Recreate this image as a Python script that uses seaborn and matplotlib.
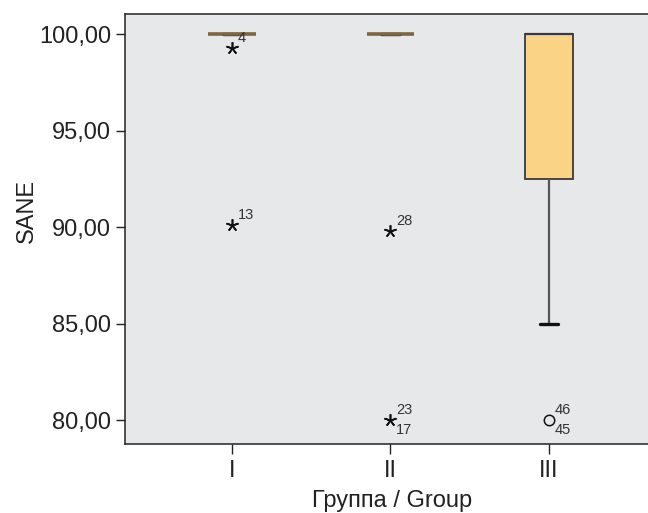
import numpy as np
import pandas as pd
import seaborn as sns
import matplotlib
matplotlib.use("Agg")
import matplotlib.pyplot as plt
from matplotlib.ticker import FuncFormatter

# ---- data ----
groups = ["I", "II", "III"]
group_I_cases = [1, 2, 3, 4, 5, 6, 7, 8, 9, 10, 11, 12, 13]
group_I_values = [100, 100, 100, 99.3, 100, 100, 100, 100, 100, 100, 100, 100, 90.1]
group_II_cases = [14, 15, 16, 17, 18, 19, 20, 21, 22, 23, 24, 25, 26, 27, 28, 29, 30, 31]
group_II_values = [100, 100, 100, 80, 100, 100, 100, 100, 100, 80, 100, 100, 100, 100, 89.8,
                   100, 100, 100]
group_III_cases = [32, 33, 34, 35, 36, 37, 38, 39, 40, 41, 42, 43, 44, 45, 46, 47, 48, 49]
group_III_values = [85, 90, 92.5, 92.5, 95, 97.5, 100, 100, 100, 100, 100, 100, 100, 80, 80,
                    100, 100, 100]
y_ticks = [80, 85, 90, 95, 100]
x_label = "Группа / Group"
y_label = "SANE"

values_by_group = [group_I_values, group_II_values, group_III_values]
cases_by_group = [group_I_cases, group_II_cases, group_III_cases]

df = pd.DataFrame({
    "group": [g for g, v in zip(groups, values_by_group) for _ in v],
    "value": [x for v in values_by_group for x in v],
})

# ---- style ----
sns.set_style("ticks")
plt.rcParams["font.family"] = ["Liberation Sans", "DejaVu Sans"]
bg = "#e7e8ea"
fill = "#fbd386"
edge = "#3a3a3a"
txt = "#222222"

fig = plt.figure(figsize=(6.48, 5.13), dpi=100)
ax = fig.add_axes([125 / 648, 1 - 444 / 513, 1 - 125 / 648, (444 - 14) / 513])
ax.set_facecolor(bg)

sns.boxplot(data=df, x="group", y="value", order=groups, ax=ax,
            width=0.3, color=fill, saturation=1, linecolor=edge, linewidth=1.3,
            whis=1.5, showfliers=False,
            medianprops=dict(color="#3a3a3a", linewidth=1.6),
            whiskerprops=dict(color="#555555", linewidth=1.6),
            capprops=dict(color="#111111", linewidth=2.4),
            capwidths=0.115)

# hide upper caps (they coincide with the box top at 100)
cont = ax.containers[0] if ax.containers else None
if cont is not None and hasattr(cont, "caps"):
    caps = list(cont.caps)
    for i in range(1, len(caps), 2):
        caps[i].set_visible(False)
    meds = list(cont.medians)
    for i, m in enumerate(meds):
        if i < 2:
            m.set_color("#7d6640")
            m.set_linewidth(2.6)

# outliers (SPSS style: o for 1.5-3 IQR, * beyond 3 IQR)
for pos, (vals, cases) in enumerate(zip(values_by_group, cases_by_group)):
    arr = np.array(vals, dtype=float)
    q1, q3 = np.percentile(arr, [25, 75])
    iqr = q3 - q1
    pts = {}
    for v, c in zip(vals, cases):
        if v < q1 - 1.5 * iqr or v > q3 + 1.5 * iqr:
            pts.setdefault(v, []).append(c)
    for v, cs in pts.items():
        extreme = v < q1 - 3 * iqr or v > q3 + 3 * iqr
        if extreme:
            ax.plot(pos, v, marker=(5, 2, 0), markersize=9, color="#111111",
                    markeredgewidth=1.2, linestyle="none", zorder=5)
        else:
            ax.plot(pos, v, marker="o", markersize=7.5, markerfacecolor="none",
                    markeredgecolor="#111111", markeredgewidth=1.1,
                    linestyle="none", zorder=5)
        cs = sorted(cs)
        if len(cs) == 1:
            ax.annotate(str(cs[0]), (pos, v), xytext=(4.3, 7), textcoords="offset points",
                        ha="left", va="center", fontsize=10.5, color="#333333")
        else:
            ax.annotate(str(cs[1]), (pos, v), xytext=(4, 7), textcoords="offset points",
                        ha="left", va="center", fontsize=10.5, color="#333333")
            ax.annotate(str(cs[0]), (pos, v), xytext=(4, -7.5), textcoords="offset points",
                        ha="left", va="center", fontsize=10.5, color="#333333")

# axes
ax.set_xlim(-0.675, 2.625)
ax.set_ylim(78.76, 101.04)
ax.set_yticks(y_ticks)
ax.yaxis.set_major_formatter(FuncFormatter(lambda v, p: f"{v:.2f}".replace(".", ",")))
for s in ["left", "top", "bottom"]:
    ax.spines[s].set_visible(True)
    ax.spines[s].set_color("#222222")
    ax.spines[s].set_linewidth(1.1)
ax.spines["right"].set_visible(False)
ax.tick_params(axis="y", direction="out", length=6.5, width=1.0, pad=3.5,
               labelsize=17, colors=txt)
ax.tick_params(axis="x", direction="out", length=7.2, width=1.0, pad=4,
               labelsize=17, colors=txt)
ax.set_xlabel(x_label, fontsize=17, color=txt)
ax.set_ylabel(y_label, fontsize=17, color=txt)
ax.xaxis.set_label_coords(0.51, -0.108)
ax.yaxis.set_label_coords(-0.166, 0.542)

fig.savefig("out.png", dpi=100, facecolor="white")
